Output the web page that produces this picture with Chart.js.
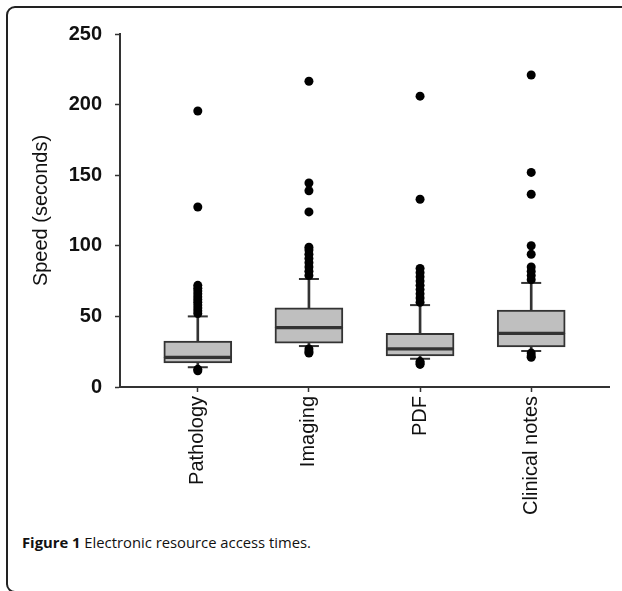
<!DOCTYPE html>
<html>
<head>
<meta charset="utf-8">
<script src="https://cdn.jsdelivr.net/npm/chart.js@4.4.1/dist/chart.umd.min.js"></script>
<style>
  body { margin: 0; background: #fff; }
  #page { position: relative; width: 622px; height: 591px; overflow: hidden; background: #fff; }
  #frame {
    position: absolute; left: 6px; top: 6px; width: 700px; height: 587px;
    border: 2px solid #222; border-radius: 9px; box-sizing: border-box;
  }
  #wrap { position: absolute; left: 0; top: 0; width: 622px; height: 530px; }
  #caption {
    position: absolute; left: 22px; top: 532px;
    font-family: "Open Sans", sans-serif; font-size: 14.8px; color: #111;
  }
  #caption b { font-weight: 700; }
</style>
</head>
<body>
<div id="page">
  <div id="frame"></div>
  <div id="wrap"><canvas id="grafica" width="622" height="530"></canvas></div>
  <div id="caption"><b>Figure 1</b> Electronic resource access times.</div>
</div>
<script>
// categorias y resumen de cada caja (segundos)
const categorias = ['Pathology', 'Imaging', 'PDF', 'Clinical notes'];
const q1 = [17, 31, 22, 28.3];
const mediana = [21, 42, 27, 38];
const q3 = [32.5, 56, 38, 54.5];
const bigoteBajo = [14, 29, 20, 25.5];
const bigoteAlto = [50, 76.5, 58, 73.7];

// valores atipicos
const atipicos = [
    [11.5, 12.5, 52, 54, 56, 58, 60, 62, 64, 66, 68, 70, 72, 127.5, 195.5],
    [24, 25, 27, 79, 82, 85, 88, 91, 94, 97, 99, 124, 139, 144.5, 216.5],
    [16, 17, 18, 60, 63, 66, 69, 72, 75, 78, 81, 84, 133, 206],
    [21, 22, 24, 76, 79, 82, 85, 94, 100, 136.5, 152, 221]
];

const ejeY = [0, 50, 100, 150, 200, 250];

const gris = '#333333';

function puntosCaja(desde, hasta) {
    return categorias.map((c, i) => ({ x: i + 1, y: [desde[i], hasta[i]] }));
}

const puntosAtipicos = [];
atipicos.forEach((lista, i) => lista.forEach(v => puntosAtipicos.push({ x: i + 1, y: v })));

const topes = [];
categorias.forEach((c, i) => {
    topes.push({ x: i + 1, y: bigoteBajo[i] });
    topes.push({ x: i + 1, y: bigoteAlto[i] });
});

const estiloCaja = {
    type: 'bar',
    backgroundColor: '#bfbfbf',
    borderColor: gris,
    borderWidth: 2,
    borderSkipped: false,
    barThickness: 68,
    grouped: false,
    order: 2
};
const estiloBigote = {
    type: 'bar',
    backgroundColor: gris,
    borderWidth: 0,
    barThickness: 2,
    grouped: false,
    order: 3
};

const ctx = document.getElementById('grafica').getContext('2d');
const grafica = new Chart(ctx, {
    data: {
        datasets: [
            Object.assign({ label: 'bigote bajo', data: puntosCaja(bigoteBajo, q1) }, estiloBigote),
            Object.assign({ label: 'bigote alto', data: puntosCaja(q3, bigoteAlto) }, estiloBigote),
            Object.assign({ label: 'caja baja', data: puntosCaja(q1, mediana) }, estiloCaja),
            Object.assign({ label: 'caja alta', data: puntosCaja(mediana, q3) }, estiloCaja),
            {
                type: 'line',
                label: 'topes',
                data: topes,
                showLine: false,
                pointStyle: 'line',
                pointRadius: 10,
                pointBorderWidth: 2,
                pointBorderColor: gris,
                order: 1
            },
            {
                type: 'line',
                label: 'atipicos',
                data: puntosAtipicos,
                showLine: false,
                pointStyle: 'circle',
                pointRadius: 4.5,
                pointBorderWidth: 0,
                pointBackgroundColor: '#000',
                order: 0
            }
        ]
    },
    options: {
        responsive: false,
        animation: false,
        layout: { padding: { top: 34, right: 13, left: 0, bottom: 0 } },
        plugins: { legend: { display: false }, tooltip: { enabled: false } },
        scales: {
            x: {
                type: 'linear',
                min: 0.3,
                max: 4.7,
                offset: false,
                afterFit: s => { s.height = 143; },
                afterBuildTicks: s => { s.ticks = categorias.map((c, i) => ({ value: i + 1 })); },
                border: { color: gris, width: 2 },
                grid: { offset: false, drawOnChartArea: false, tickLength: 5, tickColor: gris, tickWidth: 1.5 },
                ticks: {
                    autoSkip: false,
                    maxRotation: 90,
                    minRotation: 90,
                    padding: 4,
                    color: '#111',
                    font: { family: 'Liberation Sans', size: 20 },
                    callback: v => categorias[v - 1] || ''
                }
            },
            y: {
                min: ejeY[0],
                max: ejeY[ejeY.length - 1],
                afterFit: s => { s.width = 120; },
                afterBuildTicks: s => { s.ticks = ejeY.map(v => ({ value: v })); },
                border: { color: gris, width: 2 },
                grid: { drawOnChartArea: false, tickLength: 5, tickColor: gris, tickWidth: 1.5 },
                ticks: {
                    padding: 13,
                    color: '#111',
                    font: { family: 'Liberation Sans', size: 20, weight: 'bold' }
                },
                title: {
                    display: true,
                    text: 'Speed (seconds)',
                    color: '#111',
                    padding: { top: 29, bottom: 0 },
                    font: { family: 'Liberation Sans', size: 20 }
                }
            }
        }
    }
});
</script>
</body>
</html>
